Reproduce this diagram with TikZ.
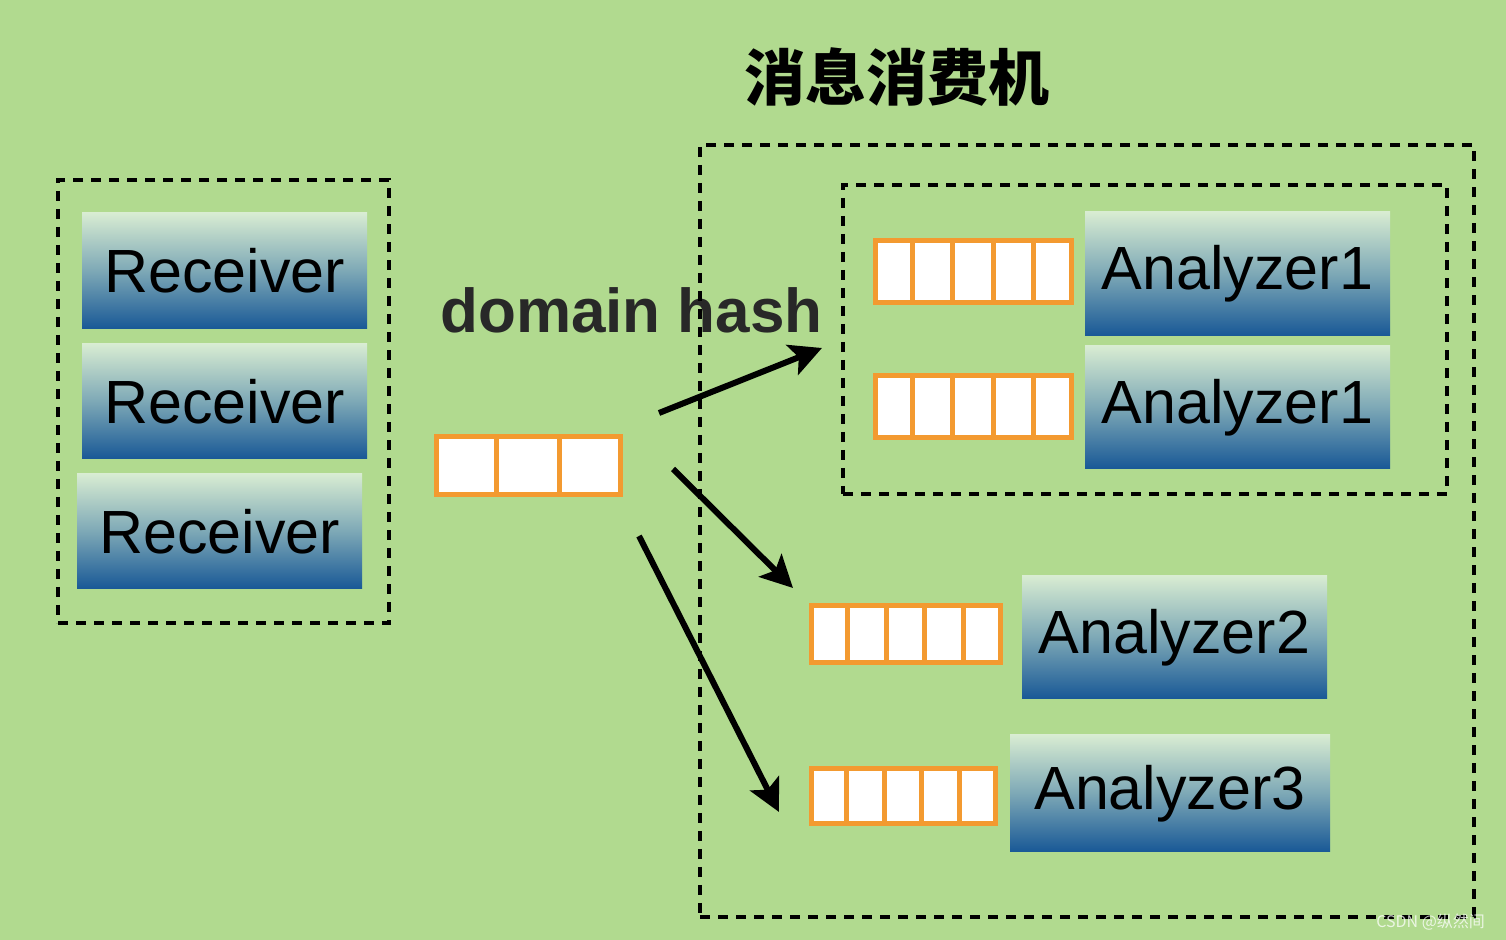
\documentclass[tikz,border=0pt]{standalone}
\usepackage{fontspec}
\setmainfont{Liberation Sans}
\newfontfamily\cjk{Noto Sans CJK SC}
\usetikzlibrary{arrows.meta,calc}
\definecolor{bggreen}{RGB}{177,218,143}
\definecolor{qorange}{RGB}{243,154,48}
\definecolor{boxtop}{RGB}{216,236,210}
\definecolor{boxmid}{RGB}{125,168,182}
\definecolor{boxbot}{RGB}{24,88,150}
\definecolor{hashtext}{RGB}{40,40,40}
\tikzset{
worker/.style={shape=rectangle,inner sep=0pt,top color=boxtop,bottom color=boxbot,middle color=boxmid,font=\fontsize{30.5}{36}\selectfont},
queue/.style={shape=rectangle,inner sep=0pt,draw=qorange,line width=2.5pt,fill=white},
qline/.style={draw=qorange,line width=2.5pt},
group/.style={shape=rectangle,inner sep=0pt,draw=black,line width=2pt,dash pattern=on 5pt off 4pt},
flow/.style={line width=3pt,-{Stealth[length=16pt,width=16pt,inset=3.5pt]}}
}
% dividers of a queue: name, number of cells
\newcommand{\qcells}[2]{%
  \foreach \i in {1,...,#2}{%
    \ifnum\i<#2
    \draw[qline] ($(#1.north west)!\i/#2!(#1.north east)$) -- ($(#1.south west)!\i/#2!(#1.south east)$);
    \fi}}
\begin{document}
\begin{tikzpicture}
[x=0.5pt,y=-0.5pt]
\fill[bggreen] (0,0) rectangle (1506,940);
\useasboundingbox (0,0) rectangle (1506,940);

\node[font=\cjk\bfseries\fontsize{30.5}{36}\selectfont] (title) at (897,77) {消息消费机};
\node[font=\bfseries\fontsize{31}{36}\selectfont,text=hashtext,anchor=base] (hash) at (631.5,333) {domain hash};

% receivers
\node[group,minimum width=165.5pt,minimum height=221.5pt] (receivers) at (223.5,401.5) {};
\node[worker,minimum width=142.5pt,minimum height=58pt] (recv one) at (224.5,271) {Receiver};
\node[worker,minimum width=142.5pt,minimum height=57.5pt] (recv two) at (224.5,401.5) {Receiver};
\node[worker,minimum width=142.5pt,minimum height=57.5pt] (recv three) at (219.5,531.5) {Receiver};

\node[queue,minimum width=92pt,minimum height=29pt] (q in) at (528,466) {};
\qcells{q in}{3}

% consumer machine
\node[group,minimum width=387pt,minimum height=386pt] (consumer) at (1087,531) {};
\node[group,minimum width=302pt,minimum height=154.5pt] (pair) at (1145,339.5) {};

\node[queue,minimum width=98pt,minimum height=31pt] (q one a) at (973,272) {};
\qcells{q one a}{5}
\node[worker,minimum width=152.5pt,minimum height=62pt] (analyzer one a) at (1237.5,274) {Analyzer1};
\node[queue,minimum width=98pt,minimum height=31pt] (q one b) at (973,407) {};
\qcells{q one b}{5}
\node[worker,minimum width=152.5pt,minimum height=61.5pt] (analyzer one b) at (1237.5,407.5) {Analyzer1};

\node[queue,minimum width=94.5pt,minimum height=28.5pt] (q two) at (905.5,634.5) {};
\qcells{q two}{5}
\node[worker,minimum width=152.5pt,minimum height=61.5pt] (analyzer two) at (1174.5,637.5) {Analyzer2};

\node[queue,minimum width=92pt,minimum height=27.5pt] (q three) at (903,796.5) {};
\qcells{q three}{5}
\node[worker,minimum width=160pt,minimum height=58.5pt] (analyzer three) at (1170,793.5) {Analyzer3};

\coordinate (from one) at (659,413);
\coordinate (to one) at (822,348);
\coordinate (from two) at (673,469);
\coordinate (to two) at (793,588);
\coordinate (from three) at (639,536);
\coordinate (to three) at (779,812);
\draw[flow] (from one) -- (to one);
\draw[flow] (from two) -- (to two);
\draw[flow] (from three) -- (to three);

\node[font=\cjk\fontsize{8}{10}\selectfont,text=white,opacity=0.75,anchor=east] (mark) at (1492,922) {CSDN @纵然间};
\end{tikzpicture}
\end{document}
